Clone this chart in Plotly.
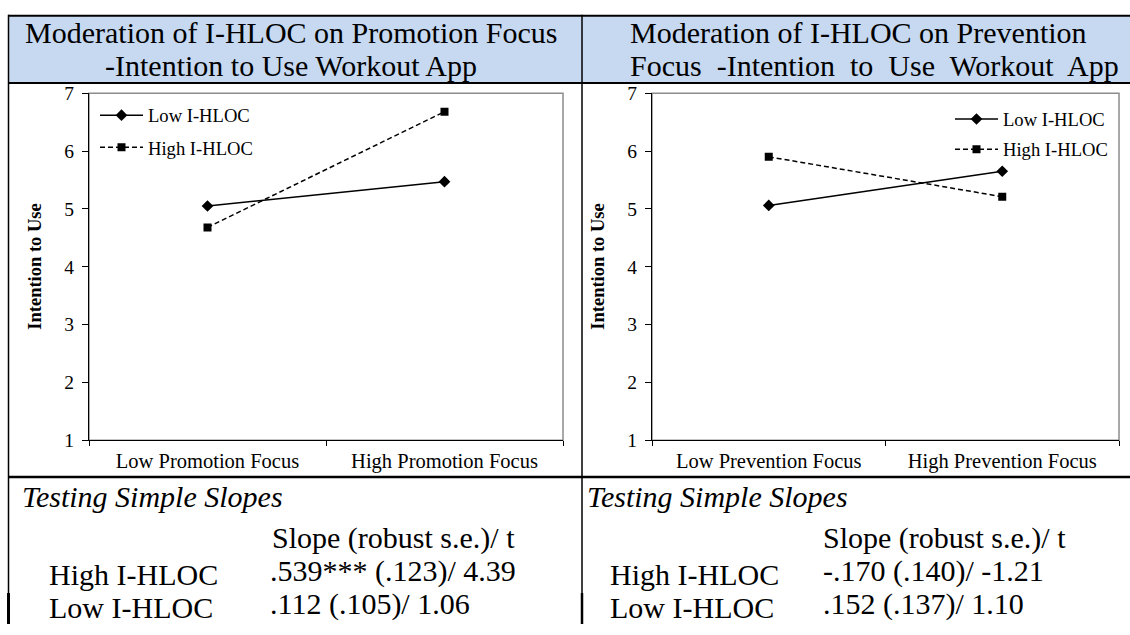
import plotly.graph_objects as go

W, H = 1130, 635

# ---------------- data ----------------
promo_categories = ["Low Promotion Focus", "High Promotion Focus"]
prev_categories = ["Low Prevention Focus", "High Prevention Focus"]
series_names = ["Low I-HLOC", "High I-HLOC"]
promo_low_hloc = [5.05, 5.47]
promo_high_hloc = [4.68, 6.68]
prev_low_hloc = [5.06, 5.65]
prev_high_hloc = [5.90, 5.21]
y_ticks = [1, 2, 3, 4, 5, 6, 7]
promo_title = ["Moderation of I-HLOC on Promotion Focus", "-Intention to Use Workout App"]
prev_title = ["Moderation of I-HLOC on Prevention", "Focus -Intention to Use Workout App"]
y_title = "Intention to Use"
slopes_heading = "Testing Simple Slopes"
slopes_colhead = "Slope (robust s.e.)/ t"
slope_rows = ["High I-HLOC", "Low I-HLOC"]
promo_slopes = [".539*** (.123)/ 4.39", ".112 (.105)/ 1.06"]
prev_slopes = ["-.170 (.140)/ -1.21", ".152 (.137)/ 1.10"]

SERIF = "Liberation Serif, Times New Roman, serif"


def px(x):
    return x / W


def py(y):
    return 1 - y / H


fig = go.Figure()

panels = [
    (promo_categories, promo_low_hloc, promo_high_hloc, "x", "y", "legend"),
    (prev_categories, prev_low_hloc, prev_high_hloc, "x2", "y2", "legend2"),
]
for cats, low, high, xa, ya, lg in panels:
    fig.add_trace(go.Scatter(
        x=cats, y=low, name=series_names[0], mode="lines+markers",
        line=dict(color="black", width=1.5),
        marker=dict(symbol="diamond", size=9, color="black"),
        xaxis=xa, yaxis=ya, legend=lg, legendgroup=lg + "a",
    ))
    fig.add_trace(go.Scatter(
        x=cats, y=high, name=series_names[1], mode="lines+markers",
        line=dict(color="black", width=1.5, dash="5px,3px"),
        marker=dict(symbol="square", size=8, color="black"),
        xaxis=xa, yaxis=ya, legend=lg, legendgroup=lg + "b",
    ))


def xaxis_cfg(cats, x0, x1, anchor):
    return dict(
        domain=[px(x0), px(x1)], anchor=anchor, type="category",
        categoryorder="array", categoryarray=cats, range=[-0.5, 1.5],
        tickson="boundaries", ticks="outside", ticklen=5, tickcolor="black",
        showline=True, linecolor="black", linewidth=1, showgrid=False,
        zeroline=False, fixedrange=True, ticklabelstandoff=2,
        tickfont=dict(family=SERIF, size=20.5, color="black"),
    )


def yaxis_cfg(anchor):
    return dict(
        domain=[py(445), py(86)], anchor=anchor, range=[1, 7],
        tickvals=y_ticks, ticks="outside", ticklen=6, tickcolor="black",
        showline=True, linecolor="black", linewidth=1, showgrid=False,
        zeroline=False, fixedrange=True, ticklabelstandoff=4,
        tickfont=dict(family=SERIF, size=19.5, color="black"),
    )


legend_common = dict(
    bgcolor="rgba(0,0,0,0)", font=dict(family=SERIF, size=18.6, color="black"),
    itemwidth=43, yanchor="top", xanchor="left",
)

LINE = dict(type="line", xref="paper", yref="paper")
shapes = [
    # header fill
    dict(type="rect", xref="paper", yref="paper", x0=px(8), x1=1, y0=py(75), y1=py(6),
         fillcolor="#C6D9F1", line=dict(width=0), layer="below"),
    # table lines
    dict(LINE, x0=px(8), x1=1, y0=py(6), y1=py(6), line=dict(color="black", width=2)),
    dict(LINE, x0=px(8), x1=1, y0=py(75.5), y1=py(75.5), line=dict(color="black", width=2)),
    dict(LINE, x0=px(8), x1=1, y0=py(483), y1=py(483), line=dict(color="black", width=2.5)),
    dict(LINE, x0=px(8.5), x1=px(8.5), y0=py(5), y1=0, line=dict(color="black", width=1.5)),
    dict(LINE, x0=px(8.5), x1=px(8.5), y0=py(603), y1=0, line=dict(color="black", width=3)),
    dict(LINE, x0=px(582), x1=px(582), y0=py(5), y1=0, line=dict(color="black", width=1.5)),
    dict(LINE, x0=px(582), x1=px(582), y0=py(603), y1=0, line=dict(color="black", width=2.5)),
    # plot area frames
    dict(type="rect", xref="x domain", yref="y domain", x0=0, x1=1, y0=0, y1=1,
         line=dict(color="#8c8c8c", width=1.5), layer="below"),
    dict(type="rect", xref="x2 domain", yref="y2 domain", x0=0, x1=1, y0=0, y1=1,
         line=dict(color="#8c8c8c", width=1.5), layer="below"),
]

annotations = []


def txt(text, x, y, size, xanchor="left", align="left", angle=0, weight="normal"):
    annotations.append(dict(
        text=text, xref="paper", yref="paper", x=px(x), y=py(y),
        xanchor=xanchor, yanchor="middle", align=align, showarrow=False,
        textangle=angle,
        font=dict(family=SERIF, size=size, color="black", weight=weight),
    ))


# headers
HS = 30
txt(promo_title[0], 291, 23, HS, xanchor="center", align="center")
txt(promo_title[1], 291, 57.5, HS, xanchor="center", align="center")
txt(prev_title[0], 628, 23, HS)
# the second line of the right header is justified (slightly wider spacing)
txt(prev_title[1].replace(" ", "\u00a0 "), 628, 57.5, HS)

# y-axis titles
txt(y_title, 35, 265.5, 18.5, xanchor="center", angle=-90, weight="bold")
txt(y_title, 598, 265.5, 18.5, xanchor="center", angle=-90, weight="bold")

# simple slopes tables
TS = 30
txt(f"<i>{slopes_heading}</i>", 20, 503, TS)
txt(f"<i>{slopes_heading}</i>", 585, 503, TS)
txt(slopes_colhead, 270, 546, TS)
txt(slopes_colhead, 821, 546, TS)
for i, (row_y, val_y) in enumerate([(584, 580), (618, 614)]):
    txt(slope_rows[i], 47, row_y, TS)
    txt(promo_slopes[i], 268, val_y, TS)
    txt(slope_rows[i], 608, row_y, TS)
    txt(prev_slopes[i], 821, val_y, TS)

fig.update_layout(
    width=W, height=H, autosize=False,
    margin=dict(l=0, r=0, t=0, b=0),
    paper_bgcolor="white", plot_bgcolor="rgba(0,0,0,0)",
    xaxis=xaxis_cfg(promo_categories, 89, 563, "y"),
    yaxis=yaxis_cfg("x"),
    xaxis2=xaxis_cfg(prev_categories, 652, 1119, "y2"),
    yaxis2=yaxis_cfg("x2"),
    legend=dict(x=px(95), y=py(89.5), tracegroupgap=5, **legend_common),
    legend2=dict(x=px(950), y=py(93.5), tracegroupgap=3, **legend_common),
    shapes=shapes, annotations=annotations,
    showlegend=True,
)

fig.write_html(
    "out.html", config={"displayModeBar": False},
    post_script="document.body.style.margin='0';document.body.style.overflow='hidden';",
)
